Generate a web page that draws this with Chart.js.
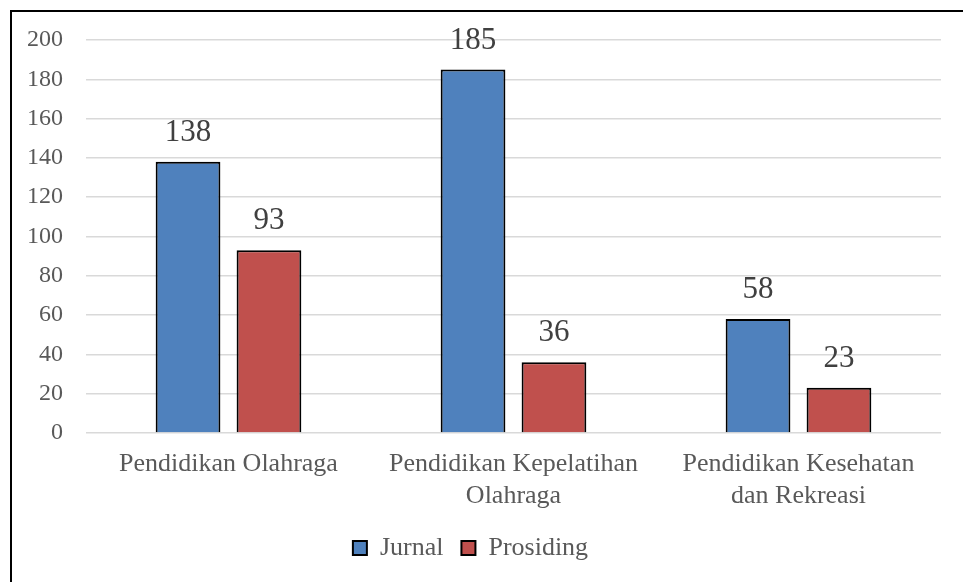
<!DOCTYPE html>
<html><head><meta charset="utf-8">
<script src="https://cdn.jsdelivr.net/npm/chart.js@4"></script>
<style>
html,body{margin:0;padding:0;background:#fff;overflow:hidden;}
#frame{position:absolute;left:10px;top:10px;width:960px;height:580px;border-left:2px solid #000;border-top:2px solid #000;}
#c{position:absolute;left:0;top:0;}
</style></head><body>
<div id="frame"></div>
<canvas id="c" width="963" height="582"></canvas>
<script>
const categories = [['Pendidikan Olahraga'], ['Pendidikan Kepelatihan', 'Olahraga'], ['Pendidikan Kesehatan', 'dan Rekreasi']];
const seriesNames = ['Jurnal', 'Prosiding'];
const jurnal = [138, 185, 58];
const prosiding = [93, 36, 23];
const yMin = 0, yMax = 200, yStep = 20;

const SERIF = '"Liberation Serif", "DejaVu Serif", serif';

const valueLabels = {
  id: 'valueLabels',
  afterDatasetsDraw(chart) {
    const ctx = chart.ctx;
    ctx.save();
    ctx.font = '31px ' + SERIF;
    ctx.fillStyle = '#404040';
    ctx.textAlign = 'center';
    ctx.textBaseline = 'middle';
    chart.data.datasets.forEach((ds, i) => {
      chart.getDatasetMeta(i).data.forEach((bar, j) => {
        ctx.fillText(String(ds.data[j]), bar.x, bar.y - 29);
      });
    });
    ctx.restore();
  }
};

new Chart(document.getElementById('c'), {
  type: 'bar',
  data: {
    labels: categories,
    datasets: [
      { label: seriesNames[0], data: jurnal, backgroundColor: '#4f81bd', borderColor: '#000000', borderWidth: 2 },
      { label: seriesNames[1], data: prosiding, backgroundColor: '#c0504d', borderColor: '#000000', borderWidth: 2 }
    ]
  },
  options: {
    responsive: false,
    animation: false,
    devicePixelRatio: 1,
    layout: { padding: { top: 40, right: 22, bottom: 11, left: 0 } },
    datasets: { bar: { categoryPercentage: 0.568, barPercentage: 0.8 } },
    plugins: {
      legend: {
        position: 'bottom',
        labels: {
          boxWidth: 14, boxHeight: 14, padding: 18,
          color: '#595959',
          font: { family: SERIF, size: 26 }
        }
      },
      tooltip: { enabled: false }
    },
    scales: {
      x: {
        grid: { display: false, drawTicks: false },
        border: { display: false },
        ticks: {
          color: '#595959', font: { family: SERIF, size: 26 }, padding: 16,
          autoSkip: false, maxRotation: 0, minRotation: 0
        },
        afterFit(scale) { scale.height = 84; }
      },
      y: {
        min: yMin, max: yMax,
        grid: { color: '#d9d9d9', lineWidth: 1.5, drawTicks: false },
        border: { display: false },
        ticks: {
          stepSize: yStep, color: '#595959', font: { family: SERIF, size: 24 }, padding: 23
        },
        afterFit(scale) { scale.width = 86; }
      }
    }
  },
  plugins: [valueLabels]
});
</script>
</body></html>
